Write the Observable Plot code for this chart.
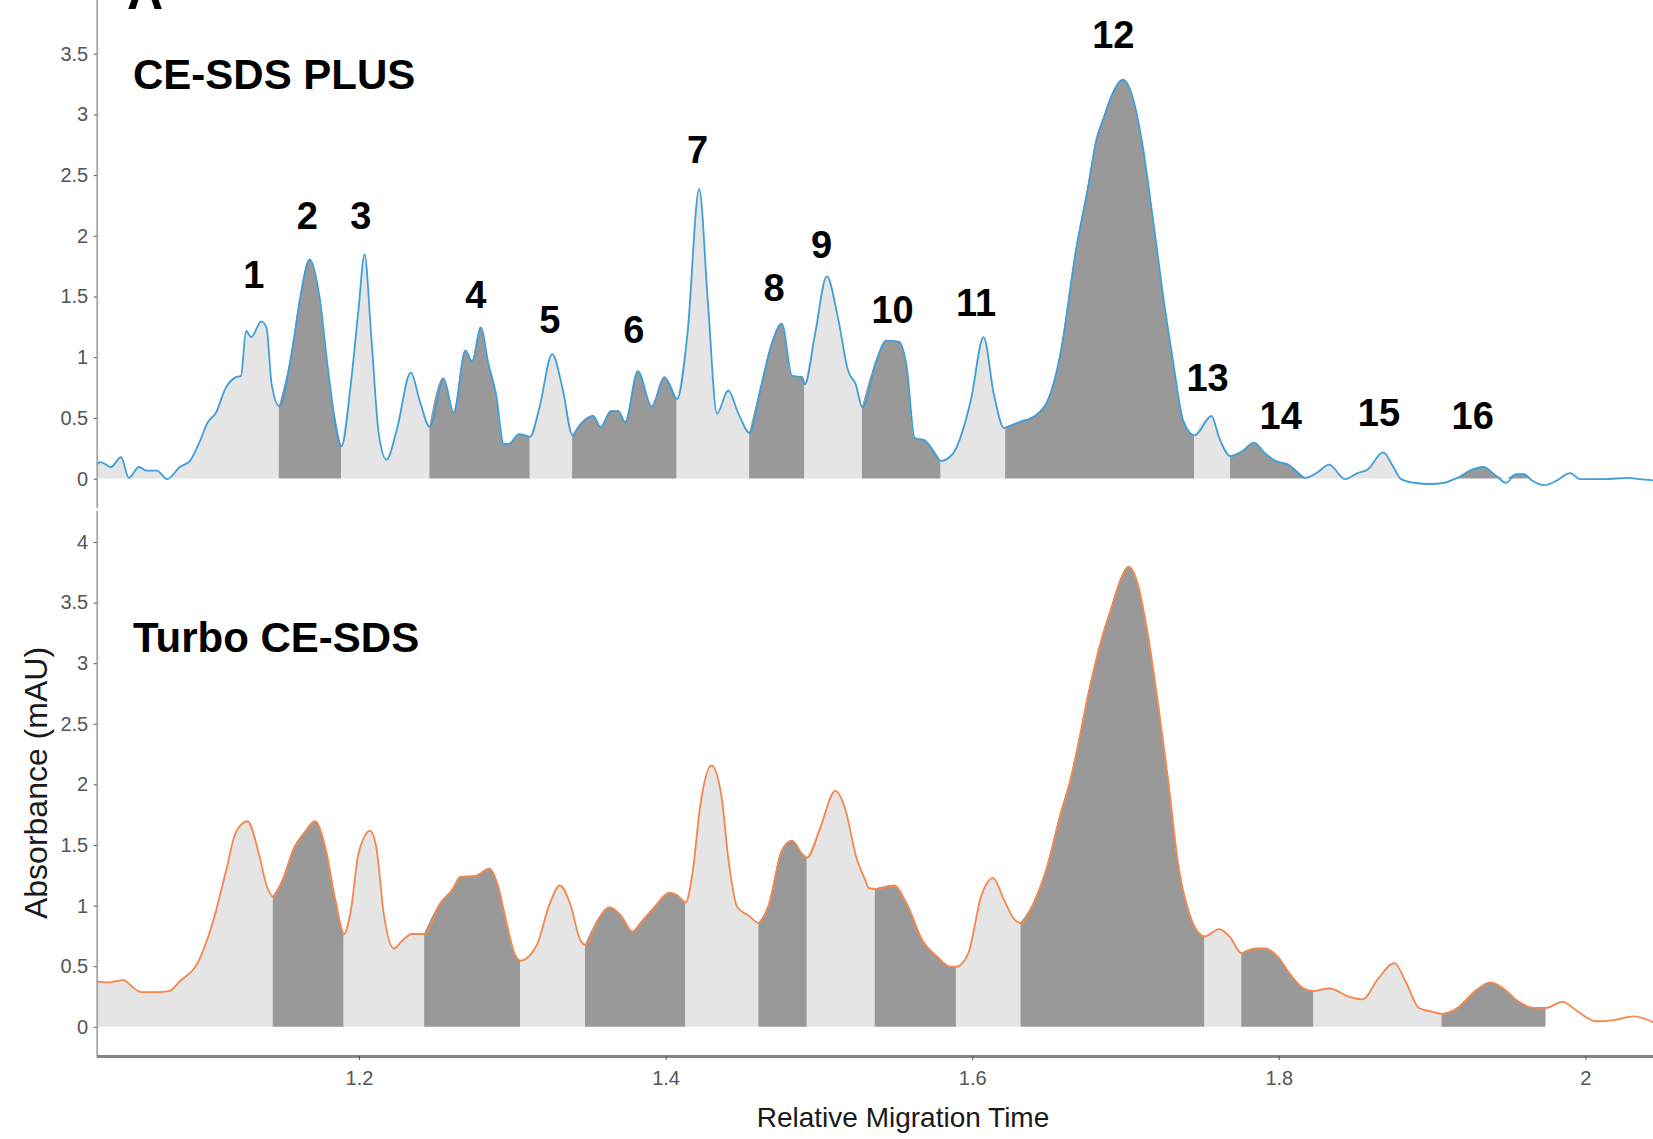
<!DOCTYPE html>
<html>
<head>
<meta charset="utf-8">
<script src="https://cdn.jsdelivr.net/npm/d3@7"></script>
<script src="https://cdn.jsdelivr.net/npm/@observablehq/plot@0.6"></script>
<style>
  body { margin: 0; background: #fff; }
  #wrap { position: relative; width: 1653px; height: 1139px; overflow: hidden; background: #fff;
          font-family: "Liberation Sans", Arial, sans-serif; }
  .abs { position: absolute; white-space: nowrap; line-height: 1; }
  #top { left: 0; top: -40px; }
  #bot { left: 0; top: 500px; }
  .ptitle { font-weight: bold; font-size: 42px; color: #000; }
</style>
</head>
<body>
<div id="wrap">
  <div id="top" class="abs"></div>
  <div id="bot" class="abs"></div>
  <div class="abs" style="left:127px; top:-33px; font-weight:bold; font-size:50px; color:#000;">A</div>
  <div class="abs ptitle" style="left:133px; top:54px;">CE-SDS PLUS</div>
  <div class="abs ptitle" style="left:133px; top:617px;">Turbo CE-SDS</div>
  <div class="abs" style="left:903px; top:1104px; transform:translateX(-50%); font-size:28px; color:#1a1a1a;">Relative Migration Time</div>
  <div class="abs" style="left:36px; top:783px; transform:translate(-50%,-50%) rotate(-90deg); font-size:32px; color:#1a1a1a;">Absorbance (mAU)</div>
</div>
<script>
// ---- CE-SDS PLUS (top trace) ----
const topX = [1.0279,1.0312,1.0378,1.0445,1.0495,1.0561,1.0611,1.0678,1.0745,1.0828,
  1.0894,1.0961,1.1011,1.1061,1.1127,1.1194,1.1227,1.1260,1.1294,1.1360,
  1.1393,1.1427,1.1477,1.1560,1.1610,1.1676,1.1743,1.1793,1.1876,1.1943,
  1.1993,1.2033,1.2076,1.2126,1.2176,1.2242,1.2335,1.2392,1.2458,1.2548,
  1.2615,1.2691,1.2735,1.2791,1.2841,1.2891,1.2941,1.2974,1.3041,1.3108,
  1.3174,1.3257,1.3324,1.3391,1.3440,1.3524,1.3573,1.3640,1.3690,1.3733,
  1.3816,1.3906,1.3989,1.4073,1.4139,1.4216,1.4272,1.4332,1.4405,1.4472,
  1.4539,1.4622,1.4688,1.4755,1.4822,1.4888,1.4905,1.4971,1.5048,1.5121,
  1.5188,1.5237,
  1.5286,1.5370,1.5437,1.5520,1.5570,1.5621,1.5687,1.5787,1.5871,1.5988,
  1.6071,1.6138,1.6205,1.6305,1.6405,1.6506,1.6572,1.6673,1.6756,1.6806,
  1.6856,1.6907,1.6980,1.7040,1.7107,1.7174,1.7241,1.7307,1.7374,1.7448,
  1.7558,1.7608,1.7682,1.7758,1.7835,1.7909,1.7976,1.8059,1.8169,1.8243,
  1.8326,1.8427,1.8510,1.8577,1.8677,1.8744,1.8794,1.8878,1.8978,1.9078,
  1.9162,1.9245,1.9329,1.9412,1.9479,1.9546,1.9596,1.9646,1.9729,1.9813,
  1.9896,1.9963,2.0114,2.0281,2.0347,2.0441];
const topY = [0.12,0.14,0.10,0.18,0.01,0.10,0.07,0.07,0.00,0.10,
  0.15,0.32,0.47,0.54,0.75,0.84,0.85,1.22,1.17,1.30,
  1.25,0.78,0.60,1.06,1.47,1.81,1.47,0.92,0.27,0.78,
  1.39,1.85,1.19,0.37,0.16,0.40,0.88,0.65,0.43,0.83,
  0.55,1.06,0.97,1.25,0.95,0.70,0.29,0.29,0.37,0.35,
  0.59,1.03,0.75,0.36,0.45,0.52,0.43,0.56,0.56,0.47,
  0.89,0.60,0.84,0.66,1.19,2.39,1.47,0.54,0.73,0.54,
  0.38,0.78,1.11,1.28,0.85,0.84,0.78,1.19,1.67,1.33,
  0.89,0.78,
  0.59,0.97,1.14,1.13,0.92,0.34,0.32,0.15,0.21,0.65,
  1.17,0.70,0.42,0.47,0.52,0.70,1.03,1.88,2.43,2.79,
  2.98,3.16,3.29,3.16,2.76,2.16,1.52,0.97,0.48,0.36,
  0.52,0.34,0.19,0.23,0.30,0.21,0.15,0.12,0.01,0.05,
  0.12,0.00,0.05,0.08,0.22,0.10,0.00,-0.03,-0.04,-0.03,
  0.01,0.07,0.10,0.03,-0.03,0.04,0.04,-0.01,-0.05,-0.01,
  0.05,0.00,0.00,0.01,0.00,-0.01];
const topBounds = [1.0289,1.1477,1.1883,1.2459,1.3114,1.3390,1.4072,1.4545,1.4905,
  1.5281,1.5794,1.6215,1.7448,1.7682,1.8170,1.9145,1.9646];
const topShades = ["light","dark","light","dark","light","dark","light","dark",
  "light","dark","light","dark","light","dark","light","dark"];

// ---- Turbo CE-SDS (bottom trace) ----
const bottomX = [1.0279,1.0362,1.0462,1.0512,1.0578,1.0678,1.0761,1.0828,1.0944,1.1044,
  1.1127,1.1194,1.1270,1.1344,1.1394,1.1437,1.1493,1.1577,1.1643,1.1710,
  1.1776,1.1843,1.1896,1.1943,1.1993,1.2069,1.2109,1.2159,1.2226,1.2275,
  1.2342,1.2425,1.2525,1.2608,1.2658,1.2758,1.2848,1.2901,1.2958,1.3008,
  1.3058,1.3157,1.3241,1.3307,1.3374,1.3440,1.3474,1.3557,1.3633,1.3707,
  1.3780,1.3840,1.3923,1.4023,1.4073,1.4123,1.4173,1.4222,1.4296,1.4362,
  1.4405,1.4465,1.4539,1.4605,1.4672,1.4755,1.4822,1.4888,1.4921,1.5004,
  1.5104,1.5171,1.5237,1.5304,
  1.5320,1.5370,1.5487,1.5570,1.5671,1.5771,1.5854,1.5898,1.5971,1.6055,
  1.6132,1.6205,1.6272,1.6322,1.6406,1.6489,1.6573,1.6639,1.6689,1.6756,
  1.6840,1.6907,1.6967,1.7017,1.7074,1.7140,1.7207,1.7274,1.7341,1.7408,
  1.7491,1.7515,1.7608,1.7675,1.7758,1.7842,1.7909,1.7992,1.8076,1.8159,
  1.8226,1.8326,1.8460,1.8543,1.8644,1.8751,1.8827,1.8911,1.8994,1.9068,
  1.9162,1.9278,1.9379,1.9462,1.9563,1.9663,1.9740,1.9846,1.9947,2.0064,
  2.0181,2.0314,2.0441];
const bottomY = [0.38,0.37,0.39,0.34,0.29,0.29,0.30,0.38,0.53,0.87,
  1.28,1.61,1.70,1.43,1.17,1.08,1.20,1.49,1.61,1.70,
  1.49,1.05,0.77,0.96,1.43,1.62,1.49,0.93,0.65,0.71,
  0.77,0.77,1.02,1.14,1.24,1.25,1.31,1.18,0.87,0.62,
  0.55,0.68,1.02,1.17,1.02,0.72,0.68,0.89,0.99,0.92,
  0.79,0.87,0.99,1.11,1.09,1.03,1.28,1.82,2.16,1.90,
  1.40,0.99,0.92,0.86,1.02,1.46,1.54,1.43,1.40,1.64,
  1.95,1.79,1.42,1.20,
  1.15,1.14,1.17,1.02,0.72,0.58,0.50,0.50,0.61,1.08,
  1.23,1.05,0.89,0.86,1.05,1.34,1.76,2.05,2.34,2.76,
  3.20,3.47,3.70,3.80,3.67,3.26,2.69,2.05,1.34,0.96,
  0.76,0.75,0.81,0.75,0.61,0.65,0.65,0.58,0.43,0.32,
  0.30,0.32,0.25,0.23,0.40,0.53,0.37,0.16,0.13,0.11,
  0.16,0.30,0.37,0.32,0.21,0.16,0.16,0.21,0.13,0.05,
  0.06,0.09,0.04];
const bottomBounds = [1.0289,1.1437,1.1900,1.2425,1.3051,1.3474,1.4129,1.4605,1.4921,
  1.5364,1.5894,1.6315,1.7515,1.7755,1.8226,1.9061,1.9740];
const bottomShades = ["light","dark","light","dark","light","dark","light","dark",
  "light","dark","light","dark","light","dark","light","dark"];

// ---- peak labels (top panel) ----
const peakNames = ["1","2","3","4","5","6","7","8","9","10","11","12","13","14","15","16"];
const peakX = [1.1311,1.1659,1.2009,1.2758,1.3241,1.3790,1.4206,1.4705,1.5014,1.5477,1.6022,1.6917,1.7532,1.8009,1.8650,1.9262];
const peakY = [1.677,2.157,2.157,1.512,1.306,1.224,2.707,1.568,1.924,1.383,1.444,3.654,0.826,0.510,0.538,0.510];

// ---- axes ----
const xTicks = [1.2, 1.4, 1.6, 1.8, 2.0];
const xTickLabels = ["1.2", "1.4", "1.6", "1.8", "2"];
const yTicks = [0, 0.5, 1, 1.5, 2, 2.5, 3, 3.5, 4];
const yTickLabels = ["0", "0.5", "1", "1.5", "2", "2.5", "3", "3.5", "4"];

const xDomain = [1.0289, 2.0441];
const shadeColor = {light: "#e5e5e5", dark: "#999999"};
const FONT = '"Liberation Sans", Arial, sans-serif';

function build(X, Y, bounds, shades) {
  const pts = X.map((x, i) => ({x, y: Y[i]}));
  const extra = [];
  for (const b of bounds) {
    let j = pts.findIndex(p => Math.abs(p.x - b) < 0.0008);
    if (j >= 0) { pts[j].x = b; continue; }
    let y = 0;
    for (let i = 0; i < pts.length - 1; i++) {
      if (pts[i].x <= b && pts[i + 1].x >= b) {
        const t = (b - pts[i].x) / (pts[i + 1].x - pts[i].x);
        y = pts[i].y + t * (pts[i + 1].y - pts[i].y);
        break;
      }
    }
    extra.push({x: b, y});
  }
  const all = pts.concat(extra).sort((a, b) => a.x - b.x);
  const seg = [];
  for (let k = 0; k < bounds.length - 1; k++) {
    const b0 = bounds[k], b1 = bounds[k + 1];
    for (const p of all) if (p.x >= b0 - 1e-9 && p.x <= b1 + 1e-9)
      seg.push({x: p.x, y: Math.max(0, p.y), seg: k, fill: shadeColor[shades[k]]});
  }
  return {all, seg};
}

const T = build(topX, topY, topBounds, topShades);
const B = build(bottomX, bottomY, bottomBounds, bottomShades);
const peaks = peakNames.map((t, i) => ({t, x: peakX[i], y: peakY[i]}));

const yAxis = () => Plot.axisY({
  ticks: yTicks, tickFormat: d => yTickLabels[yTicks.indexOf(d)],
  tickSize: 3, tickPadding: 6, fontSize: 20, label: null, color: "#555"
});

const topPlot = Plot.plot({
  width: 1653, height: 553,
  marginLeft: 96.7, marginRight: 0, marginTop: 20, marginBottom: 5,
  x: {domain: xDomain, axis: null},
  y: {domain: [-0.242, 4.107]},
  color: {type: "identity"},
  style: {fontFamily: FONT, background: "transparent", overflow: "visible"},
  marks: [
    Plot.areaY(T.seg, {x: "x", y1: 0, y2: "y", z: "seg", fill: "fill", curve: "monotone-x", clip: true}),
    Plot.line(T.all, {x: "x", y: "y", stroke: "#3f9fd8", strokeWidth: 1.8, curve: "monotone-x", clip: true}),
    Plot.ruleX([xDomain[0]], {stroke: "#a6a6a6", strokeWidth: 1.8}),
    yAxis(),
    Plot.text(peaks, {x: "x", y: "y", text: "t", fontSize: 38, fontWeight: "bold", fill: "#000", textAnchor: "middle"})
  ]
});
document.getElementById("top").appendChild(topPlot);

const botPlot = Plot.plot({
  width: 1653, height: 639,
  marginLeft: 96.7, marginRight: 0, marginTop: 11, marginBottom: 83,
  x: {domain: xDomain},
  y: {domain: [-0.2409, 4.2557]},
  color: {type: "identity"},
  style: {fontFamily: FONT, background: "transparent", overflow: "visible"},
  marks: [
    Plot.areaY(B.seg, {x: "x", y1: 0, y2: "y", z: "seg", fill: "fill", curve: "monotone-x", clip: true}),
    Plot.line(B.all, {x: "x", y: "y", stroke: "#f4874b", strokeWidth: 1.8, curve: "monotone-x", clip: true}),
    Plot.ruleX([xDomain[0]], {stroke: "#a6a6a6", strokeWidth: 1.8}),
    Plot.ruleY([-0.2409], {stroke: "#858585", strokeWidth: 3}),
    yAxis(),
    Plot.axisX({ticks: xTicks, tickFormat: d => xTickLabels[xTicks.indexOf(d)],
      tickSize: 4, tickPadding: 10, fontSize: 20, label: null, color: "#555"})
  ]
});
document.getElementById("bot").appendChild(botPlot);
</script>
</body>
</html>
